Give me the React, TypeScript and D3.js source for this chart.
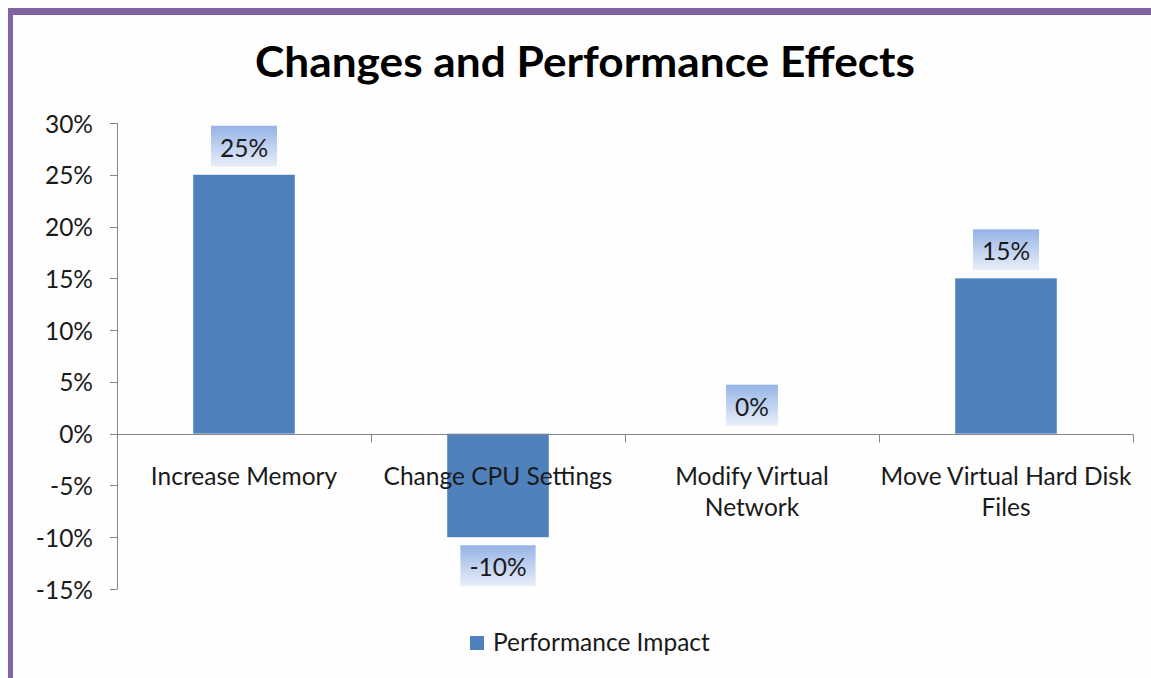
import React, { useEffect, useRef } from 'react';
import * as d3 from 'd3';

const categories = [
  ['Increase Memory'],
  ['Change CPU Settings'],
  ['Modify Virtual', 'Network'],
  ['Move Virtual Hard Disk', 'Files']
];
const impactValues = [25, -10, 0, 15];
const yTicks = [30, 25, 20, 15, 10, 5, 0, -5, -10, -15];
const seriesName = 'Performance Impact';
const title = 'Changes and Performance Effects';

const W = 1151;
const H = 678;
const FONT = 'Lato, "Open Sans", sans-serif';
const FS = 24.5;

export default function App() {
  const ref = useRef<SVGSVGElement>(null);

  useEffect(() => {
    const svg = d3.select(ref.current);
    svg.selectAll('*').remove();

    // gradient for data label boxes
    const grad = svg.append('defs').append('linearGradient')
      .attr('id', 'lbl').attr('x1', 0).attr('y1', 0).attr('x2', 0).attr('y2', 1);
    grad.append('stop').attr('offset', '0%').attr('stop-color', '#95b3e6');
    grad.append('stop').attr('offset', '100%').attr('stop-color', '#e9eff9');

    svg.append('rect').attr('width', W).attr('height', H).attr('fill', '#fefefe');

    // purple frame (only top and left visible)
    svg.append('rect').attr('x', 8).attr('y', 8).attr('width', W).attr('height', 7).attr('fill', '#8064a2');
    svg.append('rect').attr('x', 8).attr('y', 8).attr('width', 5).attr('height', H).attr('fill', '#8064a2');

    svg.append('text')
      .attr('x', 585).attr('y', 77)
      .attr('text-anchor', 'middle')
      .attr('font-family', FONT).attr('font-weight', 700).attr('font-size', 42)
      .attr('textLength', 660).attr('lengthAdjust', 'spacingAndGlyphs')
      .attr('fill', '#000')
      .text(title);

    const x = d3.scaleBand<number>().domain(d3.range(categories.length)).range([117, 1133]);
    const y = d3.scaleLinear().domain([-15, 30]).range([589, 123]);
    const axisColor = '#868686';

    // bars
    const barW = x.bandwidth() * 0.4;
    svg.selectAll('rect.bar').data(impactValues).enter().append('rect')
      .attr('class', 'bar')
      .attr('x', (d, i) => x(i)! + (x.bandwidth() - barW) / 2)
      .attr('y', (d) => y(Math.max(d, 0)))
      .attr('width', barW)
      .attr('height', (d) => Math.abs(y(d) - y(0)))
      .attr('fill', '#4f81bd');

    // y axis
    const yAxis = svg.append('g');
    yAxis.append('line').attr('x1', 117.5).attr('x2', 117.5).attr('y1', y(30)).attr('y2', y(-15))
      .attr('stroke', axisColor);
    yTicks.forEach((t) => {
      yAxis.append('line').attr('x1', 110).attr('x2', 117.5)
        .attr('y1', Math.round(y(t)) + 0.5).attr('y2', Math.round(y(t)) + 0.5)
        .attr('stroke', axisColor);
      yAxis.append('text')
        .attr('x', 93).attr('y', y(t))
        .attr('text-anchor', 'end').attr('dominant-baseline', 'central')
        .attr('font-family', FONT).attr('font-size', FS).attr('fill', '#1a1a1a')
        .text(`${t}%`);
    });

    // x axis at zero
    const y0 = Math.round(y(0)) + 0.5;
    svg.append('line').attr('x1', 117).attr('x2', 1133.5).attr('y1', y0).attr('y2', y0)
      .attr('stroke', axisColor);
    d3.range(categories.length + 1).forEach((i) => {
      const xx = Math.round(117 + i * x.bandwidth()) + 0.5;
      svg.append('line').attr('x1', xx).attr('x2', xx).attr('y1', y0).attr('y2', y0 + 8)
        .attr('stroke', axisColor);
    });

    // category labels
    categories.forEach((lines, i) => {
      const t = svg.append('text')
        .attr('text-anchor', 'middle')
        .attr('font-family', FONT).attr('font-size', FS).attr('fill', '#1a1a1a');
      lines.forEach((ln, j) => {
        t.append('tspan').attr('x', x(i)! + x.bandwidth() / 2).attr('y', 485 + j * 31).text(ln);
      });
    });

    // data labels
    impactValues.forEach((v, i) => {
      const cx = x(i)! + x.bandwidth() / 2;
      const g = svg.append('g');
      const box = g.append('rect').attr('fill', 'url(#lbl)');
      const txt = g.append('text')
        .attr('x', cx)
        .attr('text-anchor', 'middle').attr('dominant-baseline', 'central')
        .attr('font-family', FONT).attr('font-size', FS).attr('fill', '#1a1a1a')
        .text(`${v}%`);
      const tw = (txt.node() as SVGTextElement).getComputedTextLength();
      const bw = tw + 18;
      const bh = 41;
      const top = v < 0 ? y(v) + 8 : y(v) - 8 - bh;
      box.attr('x', cx - bw / 2).attr('y', top).attr('width', bw).attr('height', bh);
      txt.attr('y', top + bh / 2 + 1);
    });

    // legend
    svg.append('rect').attr('x', 470).attr('y', 636).attr('width', 14).attr('height', 14).attr('fill', '#4f81bd');
    svg.append('text')
      .attr('x', 493).attr('y', 651)
      .attr('font-family', FONT).attr('font-size', FS).attr('fill', '#1a1a1a')
      .text(seriesName);
  }, []);

  return (
    <svg ref={ref} width={W} height={H}
      style={{ position: 'absolute', left: 0, top: 0, display: 'block' }} />
  );
}
